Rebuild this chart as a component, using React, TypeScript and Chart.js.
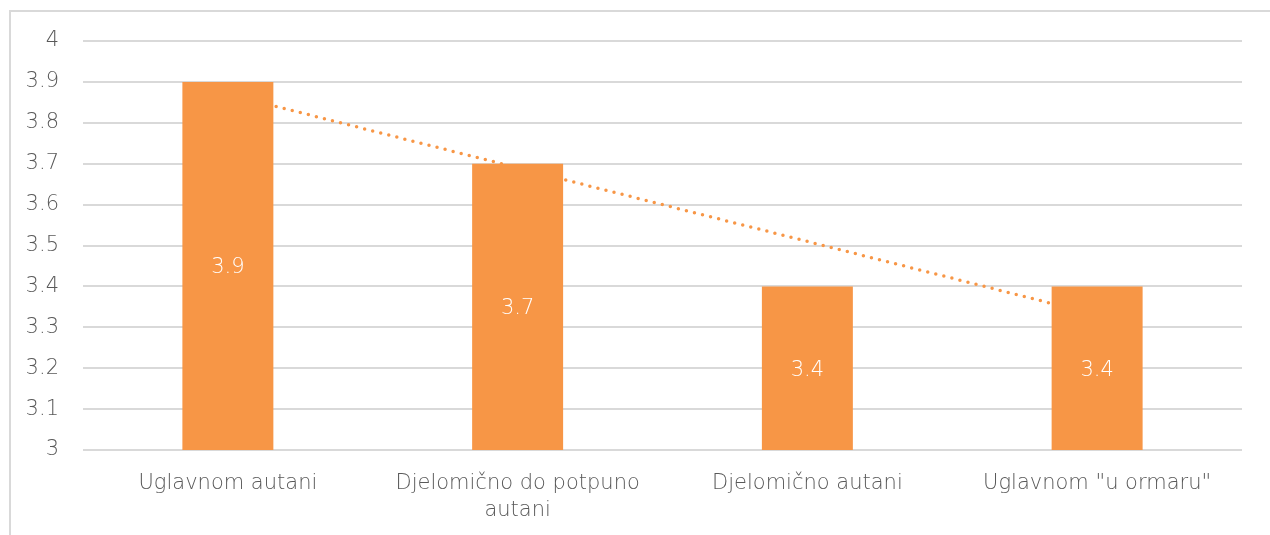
import React, { useEffect, useRef } from "react";
import { Chart, registerables } from "chart.js";

Chart.register(...registerables);

const categories: (string | string[])[] = [
  "Uglavnom autani",
  ["Djelomično do potpuno", "autani"],
  "Djelomično autani",
  'Uglavnom "u ormaru"',
];
const values = [3.9, 3.7, 3.4, 3.4];
const trendValues = [3.87, 3.69, 3.51, 3.33];
const yTicks = [3, 3.1, 3.2, 3.3, 3.4, 3.5, 3.6, 3.7, 3.8, 3.9, 4];

const ORANGE = "#F79646";
const TEXT = "#595959";
const GRID = "#D9D9D9";
const FONT = "'DejaVu Sans', 'Open Sans', sans-serif";
const FONT_SIZE = 21;
const WEIGHT = "300";

const barLabels = {
  id: "barLabels",
  afterDraw(chart: any) {
    const ctx = chart.ctx;
    const xs = chart.scales.x;
    const ys = chart.scales.y;
    ctx.save();
    ctx.fillStyle = "#FFFFFF";
    ctx.font = `${WEIGHT} ${FONT_SIZE}px ${FONT}`;
    ctx.textAlign = "center";
    ctx.textBaseline = "middle";
    values.forEach((v, i) => {
      const x = xs.getPixelForValue(i);
      const top = ys.getPixelForValue(v);
      const base = ys.getPixelForValue(ys.min);
      ctx.fillText(String(v), x, (top + base) / 2 + 2);
    });
    ctx.restore();
  },
};

export default function App() {
  const ref = useRef<HTMLCanvasElement | null>(null);

  useEffect(() => {
    document.body.style.margin = "0";
    const chart = new Chart(ref.current!, {
      type: "bar",
      data: {
        labels: categories,
        datasets: [
          {
            type: "bar",
            data: values,
            backgroundColor: ORANGE,
            borderWidth: 0,
            categoryPercentage: 0.314,
            barPercentage: 1,
            order: 0,
          },
          {
            type: "line",
            data: trendValues,
            borderColor: ORANGE,
            borderWidth: 3.5,
            borderDash: [0, 8.3],
            borderCapStyle: "round",
            pointRadius: 0,
            fill: false,
            order: 1,
          } as any,
        ],
      },
      options: {
        animation: false,
        responsive: false,
        layout: { padding: { top: 41, right: 28, left: 0, bottom: 0 } },
        plugins: {
          legend: { display: false },
          tooltip: { enabled: false },
        },
        scales: {
          x: {
            grid: { display: false, drawTicks: false },
            border: { display: false },
            ticks: {
              color: TEXT,
              font: { family: FONT, size: FONT_SIZE, weight: WEIGHT, lineHeight: 1.3 },
              padding: 20,
              maxRotation: 0,
              autoSkip: false,
            },
            afterFit(scale: any) {
              scale.height = 85;
            },
          },
          y: {
            min: 3,
            max: 4,
            afterBuildTicks(scale: any) {
              scale.ticks = yTicks.map((v) => ({ value: v }));
            },
            grid: { color: GRID, lineWidth: 2, drawTicks: false },
            border: { display: false },
            ticks: {
              color: TEXT,
              font: { family: FONT, size: FONT_SIZE, weight: WEIGHT },
              padding: 24,
              callback: (v: any) => String(Math.round(Number(v) * 10) / 10),
            },
            afterFit(scale: any) {
              scale.width = 83;
            },
          },
        },
      },
      plugins: [barLabels],
    });
    return () => chart.destroy();
  }, []);

  return (
    <div style={{ position: "relative", width: 1270, height: 535, overflow: "hidden", background: "#fff" }}>
      <div
        style={{
          position: "absolute",
          left: 9,
          top: 10,
          width: 1400,
          height: 700,
          border: `2px solid ${GRID}`,
          boxSizing: "border-box",
        }}
      />
      <canvas ref={ref} width={1270} height={535} style={{ position: "absolute", left: 0, top: 0, display: "block" }} />
    </div>
  );
}
